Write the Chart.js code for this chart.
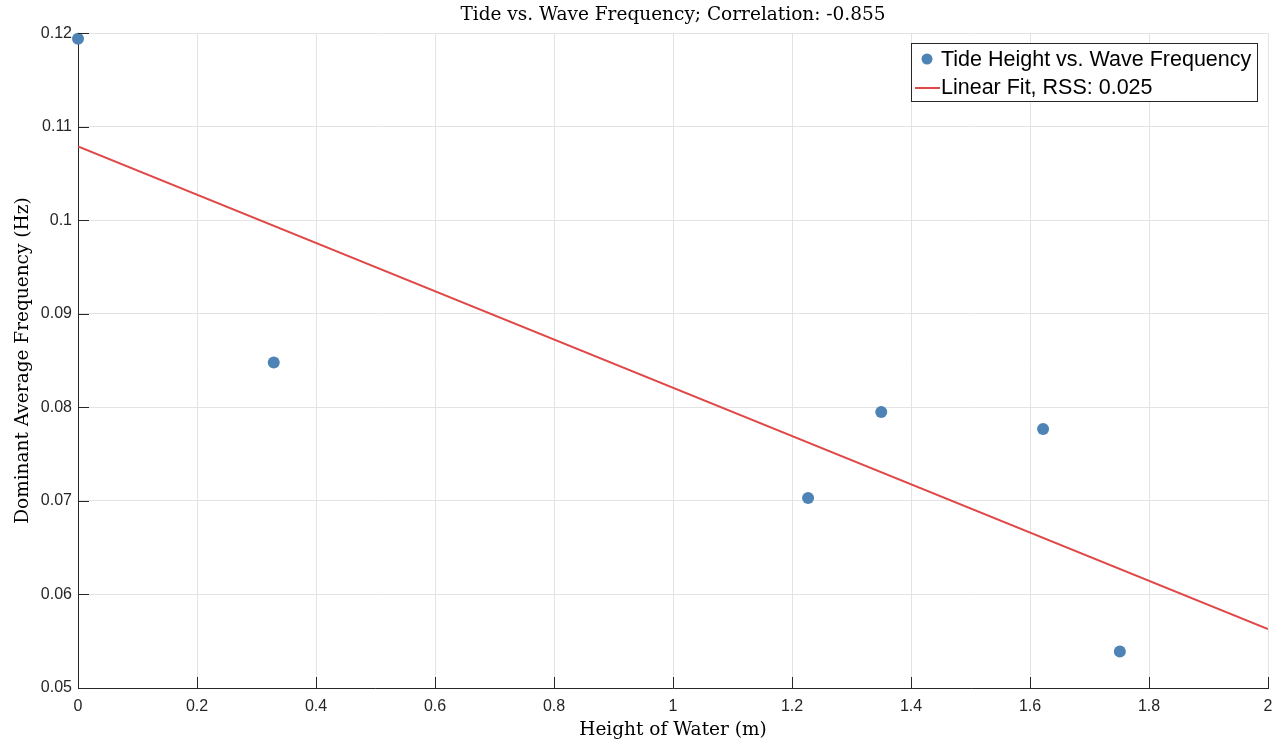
<!DOCTYPE html>
<html>
<head>
<meta charset="utf-8">
<script src="https://cdn.jsdelivr.net/npm/chart.js@4.4.0/dist/chart.umd.min.js"></script>
<style>
  html, body { margin: 0; padding: 0; background: #fff; }
  #wrap { width: 1276px; height: 741px; }
</style>
</head>
<body>
<div id="wrap"><canvas id="tideChart" width="1276" height="741"></canvas></div>
<script>
// measured values
const tideHeight = [0, 0.329, 1.227, 1.350, 1.622, 1.751];
const waveFreq = [0.1194, 0.0848, 0.0703, 0.0795, 0.0777, 0.0539];
const fitX = [0, 2];
const fitY = [0.1079, 0.0563];

const blue = '#4d83b5';
const red = '#e04848';
const axisColor = '#262626';
const serif = '"DejaVu Serif", "Liberation Serif", serif';
const sans = '"Liberation Sans", Arial, sans-serif';

function pts(xs, ys) {
    return xs.map((x, i) => ({x: x, y: ys[i]}));
}

function tickText(value) {
    return String(Number(value.toFixed(2)))
}

// small inward tick marks, matlab style
const innerTicks = {
    id: 'innerTicks',
    afterDatasetsDraw(chart) {
        const ctx = chart.ctx
        const a = chart.chartArea
        const xs = chart.scales.x, ys = chart.scales.y
        ctx.save()
        ctx.strokeStyle = axisColor
        ctx.lineWidth = 1
        ctx.beginPath()
        xs.ticks.forEach(t => {
            const px = Math.round(xs.getPixelForValue(t.value)) + 0.5
            ctx.moveTo(px, a.bottom)
            ctx.lineTo(px, a.bottom - 11)
        })
        ys.ticks.forEach(t => {
            const py = Math.round(ys.getPixelForValue(t.value)) + 0.5
            ctx.moveTo(a.left, py)
            ctx.lineTo(a.left + 11, py)
        })
        ctx.stroke()
        ctx.restore()
    }
};

// legend box inside plot, upper right
const boxLegend = {
    id: 'boxLegend',
    afterDraw(chart) {
        const ctx = chart.ctx
        const x0 = 911, y0 = 43, w = 346, h = 58
        ctx.save()
        ctx.fillStyle = '#fff'
        ctx.fillRect(x0, y0, w, h)
        ctx.strokeStyle = axisColor
        ctx.lineWidth = 1
        ctx.strokeRect(x0 + 0.5, y0 + 0.5, w, h)
        ctx.font = '21.5px ' + sans
        ctx.textBaseline = 'middle'
        const ds = chart.data.datasets
        // scatter marker
        ctx.beginPath()
        ctx.arc(927, 59, 5.5, 0, Math.PI * 2)
        ctx.fillStyle = ds[0].backgroundColor
        ctx.fill()
        ctx.fillStyle = '#000'
        ctx.fillText(ds[0].label, 941, 60)
        // line marker
        ctx.beginPath()
        ctx.strokeStyle = ds[1].borderColor
        ctx.lineWidth = 2
        ctx.moveTo(915, 88)
        ctx.lineTo(940, 88)
        ctx.stroke()
        ctx.fillText(ds[1].label, 941, 88)
        ctx.restore()
    }
};

const data = {
    datasets: [{
            type: 'scatter',
            label: 'Tide Height vs. Wave Frequency',
            data: pts(tideHeight, waveFreq),
            backgroundColor: blue,
            borderColor: blue,
            pointRadius: 6,
            pointBorderWidth: 0,
            clip: false
        }, {
            type: 'line',
            label: 'Linear Fit, RSS: 0.025',
            data: pts(fitX, fitY),
            borderColor: red,
            borderWidth: 2,
            pointRadius: 0,
            fill: false
        }]
};

const config = {
    data: data,
    options: {
        responsive: false,
        animation: false,
        layout: {autoPadding: false, padding: {left: 0, right: 8, top: 0, bottom: 0}},
        plugins: {
            legend: {display: false},
            tooltip: {enabled: false},
            title: {
                display: true,
                fullSize: false,
                text: 'Tide vs. Wave Frequency; Correlation: -0.855',
                color: '#000',
                font: {family: serif, size: 18.5, weight: 'normal', lineHeight: 1.2},
                padding: {top: 4, bottom: 7}
            }
        },
        scales: {
            x: {
                type: 'linear',
                min: 0,
                max: 2,
                ticks: {stepSize: 0.2, color: axisColor, font: {family: sans, size: 16}, padding: 9, maxRotation: 0,
                    callback: tickText},
                grid: {color: '#e3e3e3', drawTicks: false},
                border: {color: axisColor, width: 1},
                title: {display: true, text: 'Height of Water (m)', color: '#000',
                    font: {family: serif, size: 18.5}, padding: {top: 0, bottom: 0}},
                afterFit(scale) {
                    scale.height = 53
                    scale.paddingLeft = 4
                    scale.paddingRight = 4
                }
            },
            y: {
                type: 'linear',
                min: 0.05,
                max: 0.12,
                ticks: {stepSize: 0.01, color: axisColor, font: {family: sans, size: 16}, padding: 6,
                    callback: tickText},
                grid: {color: '#e3e3e3', drawTicks: false},
                border: {color: axisColor, width: 1},
                title: {display: true, text: 'Dominant Average Frequency (Hz)', color: '#000',
                    font: {family: serif, size: 18.5}, padding: {top: 12, bottom: 4}},
                afterFit(scale) { scale.width = 78 }
            }
        }
    },
    plugins: [innerTicks, boxLegend]
};

let ctx = document.getElementById('tideChart').getContext('2d')
new Chart(ctx, config)
</script>
</body>
</html>
